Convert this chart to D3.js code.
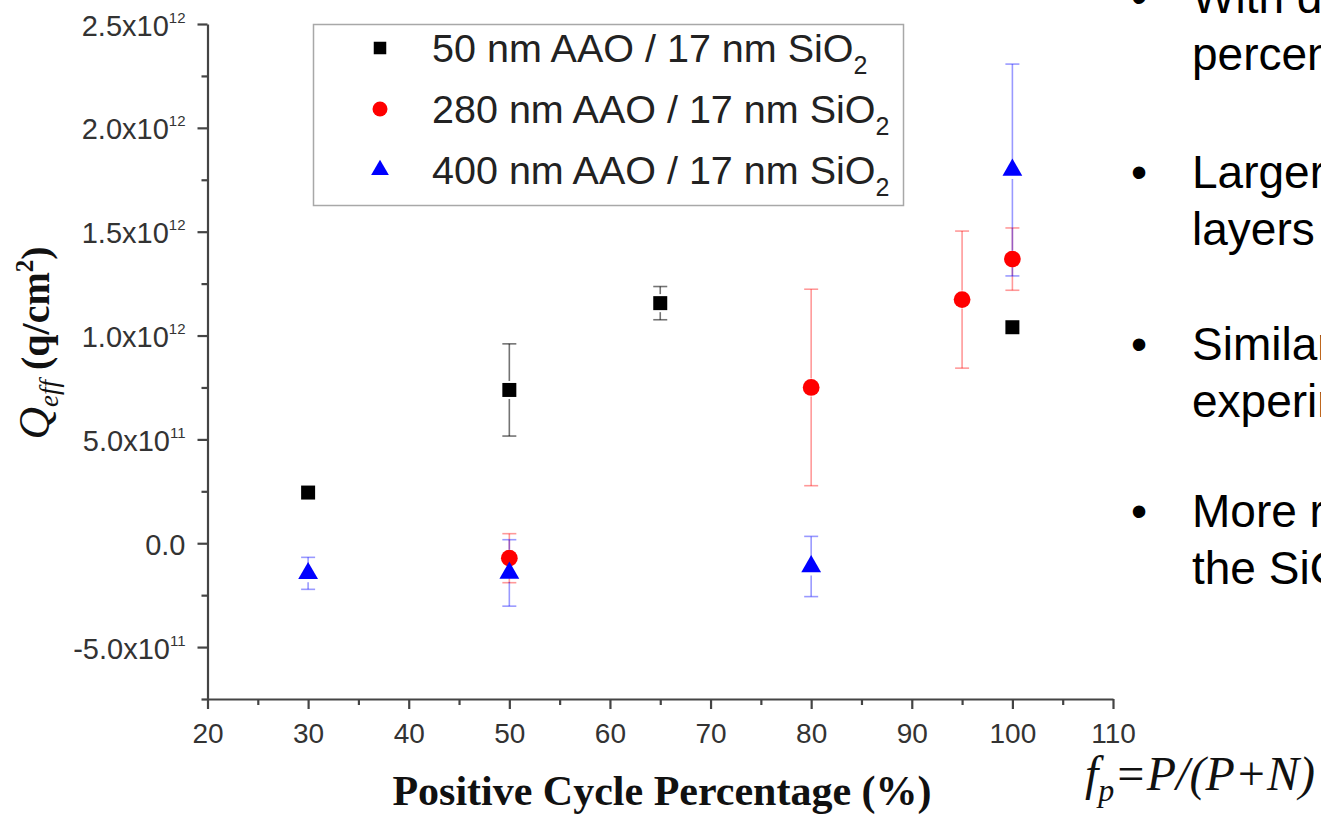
<!DOCTYPE html>
<html lang="en">
<head>
  <meta charset="UTF-8">
  <title>Qeff vs Positive Cycle Percentage</title>
  <style>
    html, body { margin: 0; padding: 0; background: #fff; overflow: hidden; }
    svg { display: block; }
    .tick text { font-family: "Liberation Sans", Arial, sans-serif; fill: #333; }
    .tick line, .domain { stroke: #444; }
  </style>
  <script src="https://d3js.org/d3.v7.min.js"></script>
</head>
<body>
  <svg width="1321" height="816"></svg>
  <script>
    // series: x = positive cycle %, y = Qeff (q/cm^2), err = +/- error
    const aao50X = [30, 50, 65, 100];
    const aao50Y = [2.44e11, 7.38e11, 1.156e12, 1.04e12];
    const aao50Err = [0, 2.22e11, 8e10, 0];

    const aao280X = [50, 80, 95, 100];
    const aao280Y = [-7.2e10, 7.5e11, 1.173e12, 1.368e12];
    const aao280Err = [1.18e11, 4.73e11, 3.3e11, 1.5e11];

    const aao400X = [30, 50, 80, 100];
    const aao400Y = [-1.45e11, -1.43e11, -1.12e11, 1.797e12];
    const aao400Err = [7.7e10, 1.6e11, 1.45e11, 5.1e11];

    const seriesNames = ["50 nm AAO / 17 nm SiO", "280 nm AAO / 17 nm SiO", "400 nm AAO / 17 nm SiO"];
    const seriesColors = ["#000000", "#ff0000", "#0000ff"];

    const xTicks = [20, 30, 40, 50, 60, 70, 80, 90, 100, 110];
    const xMinor = [25, 35, 45, 55, 65, 75, 85, 95, 105];
    const yTicks = [-5e11, 0, 5e11, 1e12, 1.5e12, 2e12, 2.5e12];
    const yTickMant = ["-5.0", "0.0", "5.0", "1.0", "1.5", "2.0", "2.5"];
    const yTickExp = ["11", "", "11", "12", "12", "12", "12"];
    const yMinor = [-7.5e11, -2.5e11, 2.5e11, 7.5e11, 1.25e12, 1.75e12, 2.25e12];

    const bullets = [
      ["With decreasing", "percentage"],
      ["Larger", "layers"],
      ["Similar", "experiments"],
      ["More research", "the SiO"]
    ];

    const svg = d3.select("svg");
    const x = d3.scaleLinear().domain([20, 110]).range([207.5, 1113]);
    const y = d3.scaleLinear().domain([-7.5e11, 2.5e12]).range([699, 24]);

    // y axis
    const gy = svg.append("g").attr("transform", "translate(207.5,0)");
    gy.call(d3.axisLeft(y).tickValues(yMinor).tickSize(6).tickSizeOuter(0).tickFormat(""))
      .call(g => g.select(".domain").remove());
    const gyMain = svg.append("g").attr("transform", "translate(207.5,0)")
      .call(d3.axisLeft(y).tickValues(yTicks).tickSize(10).tickSizeOuter(0).tickPadding(0).tickFormat(""));
    gyMain.selectAll(".tick text").each(function (d, i) {
      const t = d3.select(this).attr("x", -22).attr("dy", null).attr("y", 11)
        .attr("font-size", 29).attr("text-anchor", "end");
      t.append("tspan").text(yTickMant[i] + (yTickExp[i] ? "x10" : ""));
      if (yTickExp[i]) {
        t.append("tspan").attr("font-size", 15).attr("dy", -13).text(yTickExp[i]);
      }
    });

    // x axis
    const gx = svg.append("g").attr("transform", "translate(0,699)");
    gx.call(d3.axisBottom(x).tickValues(xMinor).tickSize(6).tickFormat(""))
      .call(g => g.select(".domain").remove());
    const gxMain = svg.append("g").attr("transform", "translate(0,699)")
      .call(d3.axisBottom(x).tickValues(xTicks).tickSize(10).tickSizeOuter(0).tickFormat(d3.format("d")));
    gxMain.selectAll(".tick text").attr("font-size", 28).attr("y", 0).attr("dy", null)
      .attr("transform", "translate(0,44)");
    svg.selectAll(".domain, .tick line").attr("stroke-width", 2.2);

    // data
    const series = [
      { xs: aao50X, ys: aao50Y, es: aao50Err, shape: d3.symbolSquare, size: 196 },
      { xs: aao280X, ys: aao280Y, es: aao280Err, shape: d3.symbolCircle, size: 220 },
      { xs: aao400X, ys: aao400Y, es: aao400Err, shape: d3.symbolTriangle, size: 170 }
    ];

    const plot = svg.append("g");
    series.forEach((s, si) => {
      const pts = s.xs.map((v, i) => ({ x: v, y: s.ys[i], e: s.es[i] }));
      const eb = plot.append("g").attr("stroke", seriesColors[si])
        .attr("stroke-opacity", si === 0 ? 0.55 : 0.4).attr("stroke-width", 1.6).attr("fill", "none");
      pts.filter(p => p.e > 0).forEach(p => {
        const cx = x(p.x), top = y(p.y + p.e), bot = y(p.y - p.e), cy = y(p.y);
        eb.append("line").attr("x1", cx).attr("x2", cx).attr("y1", top).attr("y2", Math.min(cy - 9, bot));
        eb.append("line").attr("x1", cx).attr("x2", cx).attr("y1", Math.max(cy + 9, top)).attr("y2", bot);
        eb.append("line").attr("x1", cx - 7).attr("x2", cx + 7).attr("y1", top).attr("y2", top);
        eb.append("line").attr("x1", cx - 7).attr("x2", cx + 7).attr("y1", bot).attr("y2", bot);
      });
    });
    series.forEach((s, si) => {
      const pts = s.xs.map((v, i) => ({ x: v, y: s.ys[i] }));
      plot.append("g").selectAll("path").data(pts).join("path")
        .attr("d", d3.symbol().type(s.shape).size(s.size))
        .attr("transform", d => `translate(${x(d.x)},${y(d.y)})`)
        .attr("fill", seriesColors[si]);
    });

    // legend
    const lg = svg.append("g");
    lg.append("rect").attr("x", 313.5).attr("y", 24.5).attr("width", 590).attr("height", 181)
      .attr("fill", "#fff").attr("stroke", "#a8a8a8").attr("stroke-width", 1.5);
    seriesNames.forEach((name, i) => {
      const ry = 48 + i * 61;
      lg.append("path").attr("d", d3.symbol().type(series[i].shape).size(series[i].size * 0.8))
        .attr("transform", `translate(380,${ry})`).attr("fill", seriesColors[i]);
      const t = lg.append("text").attr("x", 432).attr("y", ry + 14)
        .attr("font-family", "Liberation Sans, Arial, sans-serif").attr("font-size", 39.5).attr("fill", "#222");
      t.append("tspan").text(name);
      t.append("tspan").attr("font-size", 25).attr("dy", 12).text("2");
    });

    // y axis title
    const yt = svg.append("text").attr("transform", "translate(49,343) rotate(-90)")
      .attr("text-anchor", "middle").attr("font-family", "Liberation Serif, Times New Roman, serif").attr("fill", "#111");
    yt.append("tspan").attr("font-style", "italic").attr("font-size", 45).text("Q");
    yt.append("tspan").attr("font-style", "italic").attr("font-size", 27).attr("dy", 9).text("eff");
    yt.append("tspan").attr("font-weight", "bold").attr("font-size", 40).attr("dy", -9).text(" (q/cm");
    yt.append("tspan").attr("font-weight", "bold").attr("font-size", 25).attr("dy", -16).text("2");
    yt.append("tspan").attr("font-weight", "bold").attr("font-size", 40).attr("dy", 16).text(")");

    // x axis title
    svg.append("text").attr("x", 662).attr("y", 805).attr("text-anchor", "middle")
      .attr("font-family", "Liberation Serif, Times New Roman, serif").attr("font-weight", "bold")
      .attr("font-size", 42).attr("fill", "#111").text("Positive Cycle Percentage (%)");

    // formula
    const fp = svg.append("text").attr("x", 1085).attr("y", 790)
      .attr("font-family", "Liberation Serif, Times New Roman, serif").attr("font-style", "italic")
      .attr("font-size", 48).attr("fill", "#111");
    fp.append("tspan").text("f");
    fp.append("tspan").attr("font-size", 32).attr("dy", 11).text("p");
    fp.append("tspan").attr("dy", -11).text("=P/(P+N)");

    // bullet text on the right
    const firstBase = [13, 188, 360, 527];
    const bt = svg.append("g").attr("font-family", "Liberation Sans, Arial, sans-serif")
      .attr("font-size", 46).attr("fill", "#000");
    bullets.forEach((lines, i) => {
      bt.append("text").attr("x", 1139).attr("y", firstBase[i]).attr("text-anchor", "middle").text("\u2022");
      lines.forEach((ln, j) => {
        const t = bt.append("text").attr("x", 1192).attr("y", firstBase[i] + j * 57);
        t.append("tspan").text(ln);
        if (i === 3 && j === 1) t.append("tspan").attr("font-size", 30).attr("dy", 10).text("2");
      });
    });
  </script>
</body>
</html>
